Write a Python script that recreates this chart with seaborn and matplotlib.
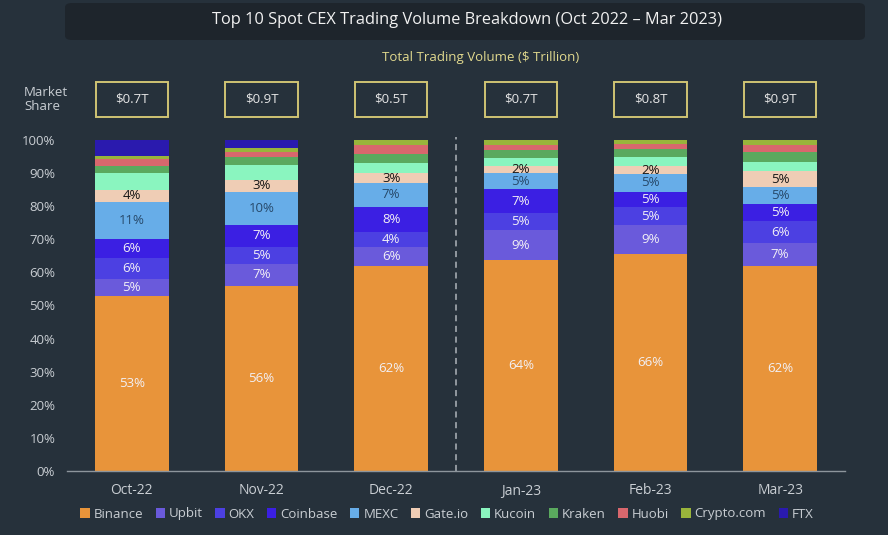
import matplotlib
matplotlib.use("Agg")
import matplotlib.pyplot as plt
import matplotlib.transforms as mtrans
from matplotlib.patches import Patch, Rectangle, FancyBboxPatch
import numpy as np
import pandas as pd
import seaborn as sns

# ── Data ───────────────────────────────────────────────────────────────────
MONTHS   = ["Oct-22", "Nov-22", "Dec-22", "Jan-23", "Feb-23", "Mar-23"]
VOLUME   = ["$0.7T", "$0.9T", "$0.5T", "$0.7T", "$0.8T", "$0.9T"]
EXCHANGES = ["Binance", "Upbit", "OKX", "Coinbase", "MEXC", "Gate.io",
             "Kucoin", "Kraken", "Huobi", "Crypto.com", "FTX"]

binance   = [53.0, 56.0, 62.0, 63.6, 65.5, 62.0]
upbit     = [5.0, 6.6, 5.8, 9.3, 8.8, 7.0]
okx       = [6.2, 5.0, 4.4, 5.0, 5.4, 6.4]
coinbase  = [6.0, 6.8, 7.6, 7.3, 4.7, 5.2]
mexc      = [11.0, 10.0, 7.3, 4.8, 5.3, 5.2]
gateio    = [3.8, 3.4, 2.8, 2.0, 2.3, 4.8]
kucoin    = [5.0, 4.5, 3.0, 2.5, 3.0, 2.7]
kraken    = [2.0, 2.5, 3.0, 2.4, 2.3, 3.0]
huobi     = [2.2, 1.7, 2.6, 1.6, 1.5, 2.1]
cryptocom = [1.0, 1.0, 1.5, 1.5, 1.2, 1.6]
ftx       = [4.8, 2.5, 0.0, 0.0, 0.0, 0.0]

SHARES = [binance, upbit, okx, coinbase, mexc, gateio,
          kucoin, kraken, huobi, cryptocom, ftx]

COLORS = ["#E8943A", "#6A5ADB", "#4C40E2", "#3B1FE3", "#67ADE8", "#EFCDB5",
          "#8AF5BF", "#5AA95E", "#D8676D", "#99B43B", "#2A1AAE"]
LABEL_COLORS = ["#F2F0F5", "#F2F0F5", "#F2F0F5", "#F2F0F5", "#27496A", "#151515"]

BG      = "#26313B"
TITLE_BG = "#1E252C"
TXT     = "#C9CED3"
GOLD    = "#CFC373"

# ── Build long table + cumulative heights ──────────────────────────────────
rows = []
for name, vals in zip(EXCHANGES, SHARES):
    for m, v in zip(MONTHS, vals):
        rows.append({"month": m, "exchange": name, "share": v})
df = pd.DataFrame(rows)
df["exchange"] = pd.Categorical(df["exchange"], EXCHANGES, ordered=True)
df = df.sort_values(["month", "exchange"])
df["top"] = df.groupby("month")["share"].cumsum()
df["mid"] = df["top"] - df["share"] / 2

# ── Figure ─────────────────────────────────────────────────────────────────
sns.set_theme(style="dark")
plt.rcParams["font.family"] = ["Open Sans", "DejaVu Sans"]

fig = plt.figure(figsize=(8.88, 5.35), dpi=100, facecolor=BG)
ax = fig.add_axes([67 / 888, 1 - 471 / 535, 778 / 888, 334 / 535])
ax.set_facecolor(BG)

# draw cumulative bars from the top series down so each overlays the next
for name, color in reversed(list(zip(EXCHANGES, COLORS))):
    sub = df[df["exchange"] == name]
    sns.barplot(data=sub, x="month", y="top", order=MONTHS, color=color,
                saturation=1, width=0.57, linewidth=0, ax=ax)

# segment labels
for name, lc in zip(EXCHANGES[:6], LABEL_COLORS):
    sub = df[df["exchange"] == name]
    for m, v, y in zip(sub["month"], sub["share"], sub["mid"]):
        ax.text(MONTHS.index(m), y, f"{v:.0f}%", ha="center", va="center",
                fontsize=9.5, color=lc)

ax.axvline(2.5, ymin=0, ymax=1, color="#AEB4BA", lw=1.1, ls=(0, (4, 3)))

ax.set_xlim(-0.5, 5.5)
ax.set_ylim(0, 100.9)
ax.set_yticks(np.arange(0, 101, 10))
ax.set_yticklabels([f"{t}%" for t in range(0, 101, 10)])
ax.set_xlabel("")
ax.set_ylabel("")
ax.tick_params(axis="both", colors=TXT, labelsize=9.5, length=0)
ax.tick_params(axis="x", pad=9, labelsize=10)
ax.tick_params(axis="y", pad=8.5)
for s in ["top", "right", "left"]:
    ax.spines[s].set_visible(False)
ax.spines["bottom"].set_color("#8D959C")
ax.spines["bottom"].set_linewidth(1)
ax.grid(False)

# volume boxes above the bars
trans = mtrans.blended_transform_factory(ax.transData, ax.transAxes)
for i, vol in enumerate(VOLUME):
    ax.add_patch(Rectangle((i - 0.28, 1.06), 0.56, 0.105, transform=trans,
                           facecolor=BG, edgecolor=GOLD, lw=1.4, clip_on=False))
    ax.text(i, 1.1125, vol, transform=trans, ha="center", va="center",
            fontsize=9.5, color="#E6E6E6")

# title block
fig.patches.append(FancyBboxPatch((65 / 888, 1 - 40 / 535), 800 / 888, 37 / 535,
                                  boxstyle="round,pad=0,rounding_size=0.008",
                                  transform=fig.transFigure,
                                  facecolor=TITLE_BG, edgecolor="none"))
fig.text(467 / 888, 1 - 20 / 535,
         "Top 10 Spot CEX Trading Volume Breakdown (Oct 2022 \u2013 Mar 2023)",
         ha="center", va="center", fontsize=11.8, color="#F2F2F2")
fig.text(481 / 888, 1 - 58 / 535, "Total Trading Volume ($ Trillion)",
         ha="center", va="center", fontsize=9.5, color="#E1D98E")
fig.text(24 / 888, 1 - 99 / 535, "Market\nShare", ha="left", va="center",
         fontsize=9.5, color=TXT, linespacing=1.1)

# legend
handles = [Patch(facecolor=c, edgecolor="none", label=n)
           for n, c in zip(EXCHANGES, COLORS)]
leg = fig.legend(handles=handles, loc="center", ncol=11, frameon=False,
                 bbox_to_anchor=(447 / 888, 1 - 514 / 535), fontsize=9.5,
                 handlelength=0.7, handleheight=0.7, handletextpad=0.3,
                 columnspacing=0.95, labelcolor=TXT)

fig.savefig("out.png", dpi=100, facecolor=BG)
